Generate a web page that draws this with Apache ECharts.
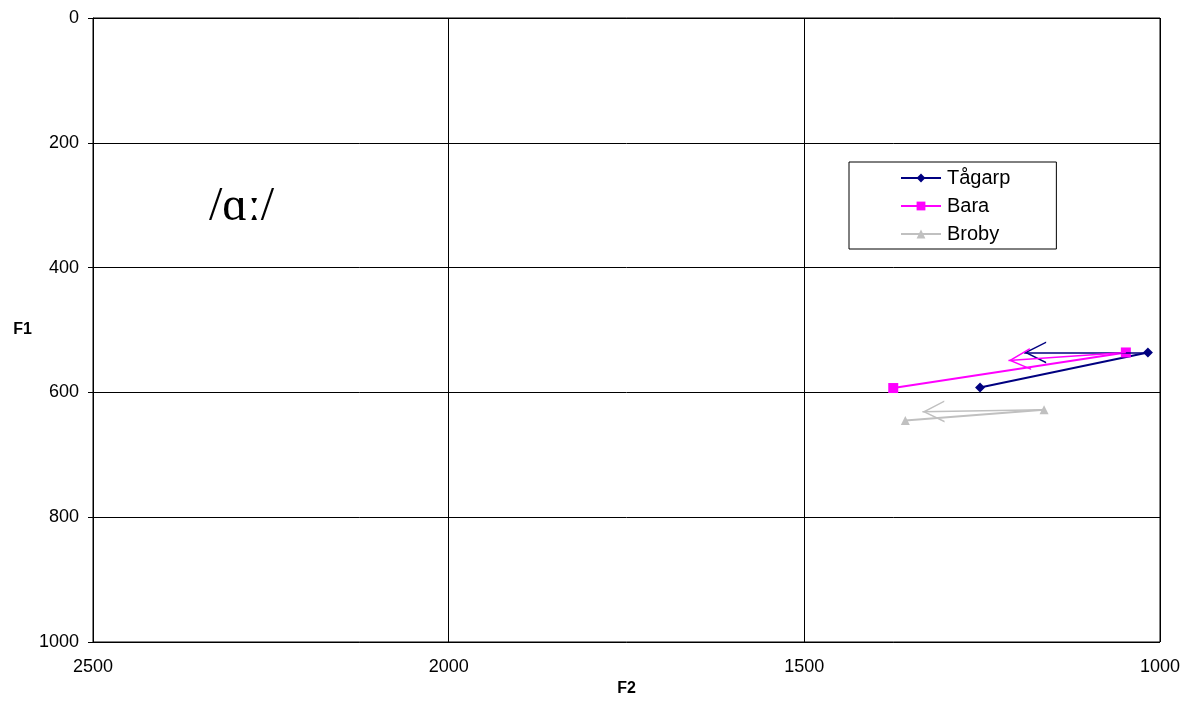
<!DOCTYPE html>
<html>
<head>
<meta charset="utf-8">
<script src="https://cdn.jsdelivr.net/npm/echarts@6/dist/echarts.min.js"></script>
<style>
  html, body { margin: 0; padding: 0; background: #fff; }
  #chart { width: 1185px; height: 702px; }
</style>
</head>
<body>
<div id="chart"></div>
<script>
// F2 / F1 values
const seriesNames = ['Tågarp', 'Bara', 'Broby']
const tagarpData = [[1017, 536], [1253, 592]]
const baraData = [[1048, 536], [1375, 593]]
const brobyData = [[1163, 628], [1358, 645]]
// drawn arrows: [tail, head]
const tagarpArrow = [[1017, 536], [1191, 536]]
const baraArrow = [[1048, 536], [1213, 549]]
const brobyArrow = [[1163, 628], [1334, 631]]

const xTicks = [2500, 2000, 1500, 1000]
const yTicks = [0, 200, 400, 600, 800, 1000]

const colors = ['#000080', '#ff00ff', '#c0c0c0']
const symbols = ['diamond', 'rect', 'triangle']
const symbolSizes = [10, 10, 9]
// open arrow head; a tiny dummy dot on the far side keeps the tip in the middle of the box
const chevron = 'path://M10,0 L10.01,0 L10,0.01 Z M10,20 L20,40 L18.5,40 L10,23 L1.5,40 L0,40 Z'

const chart = echarts.init(document.getElementById('chart'))

function makeSeries(i, data, arrow) {
  return {
    name: seriesNames[i],
    type: 'line',
    data: data,
    color: colors[i],
    symbol: symbols[i],
    symbolSize: symbolSizes[i],
    lineStyle: { width: 2, color: colors[i] },
    itemStyle: { color: colors[i] },
    markLine: {
      silent: true,
      symbol: ['none', chevron],
      symbolSize: [22, 44],
      label: { show: false },
      lineStyle: { type: 'solid', width: 1.5, color: colors[i] },
      data: [[{ coord: arrow[0] }, { coord: arrow[1] }]]
    }
  }
}

chart.setOption({
  animation: false,
  textStyle: { fontFamily: 'Liberation Sans, Arial, sans-serif' },
  grid: {
    left: 93, right: 25, top: 18, bottom: 60,
    show: true, borderColor: '#000', borderWidth: 1
  },
  xAxis: {
    type: 'value',
    inverse: true,
    min: 1000, max: 2500, interval: 500,
    name: 'F2',
    nameLocation: 'middle',
    nameGap: 38,
    nameTextStyle: { fontWeight: 'bold', fontSize: 16, color: '#000' },
    axisLine: { show: true, lineStyle: { color: '#000', width: 1 } },
    axisTick: { show: true, length: 5, lineStyle: { color: '#000' } },
    axisLabel: {
      color: '#000', fontSize: 18, margin: 16,
      formatter: v => xTicks.includes(v) ? String(v) : ''
    },
    splitLine: { show: true, lineStyle: { color: '#000', width: 1 } }
  },
  yAxis: {
    type: 'value',
    inverse: true,
    min: 0, max: 1000, interval: 200,
    name: 'F1',
    nameLocation: 'middle',
    nameGap: 61,
    nameRotate: 0,
    nameTextStyle: { fontWeight: 'bold', fontSize: 16, color: '#000' },
    axisLine: { show: true, lineStyle: { color: '#000', width: 1 } },
    axisTick: { show: true, length: 5, lineStyle: { color: '#000' } },
    axisLabel: {
      color: '#000', fontSize: 18, margin: 14,
      formatter: v => yTicks.includes(v) ? String(v) : ''
    },
    splitLine: { show: true, lineStyle: { color: '#000', width: 1 } }
  },
  legend: {
    orient: 'vertical',
    left: 849,
    top: 162,
    padding: [6, 46, 5, 51],
    itemGap: 8,
    itemWidth: 40,
    itemHeight: 11,
    backgroundColor: '#fff',
    borderColor: '#000',
    borderWidth: 1,
    borderRadius: 0,
    textStyle: { fontSize: 20, color: '#000', padding: [0, 0, 0, 1] },
    data: seriesNames
  },
  graphic: [{
    type: 'text',
    left: 209,
    top: 183,
    style: {
      text: '/ɑː/',
      font: '48px "Liberation Serif", "DejaVu Serif", serif',
      fill: '#000'
    }
  }],
  series: [
    makeSeries(0, tagarpData, tagarpArrow),
    makeSeries(1, baraData, baraArrow),
    makeSeries(2, brobyData, brobyArrow)
  ]
})
</script>
</body>
</html>
